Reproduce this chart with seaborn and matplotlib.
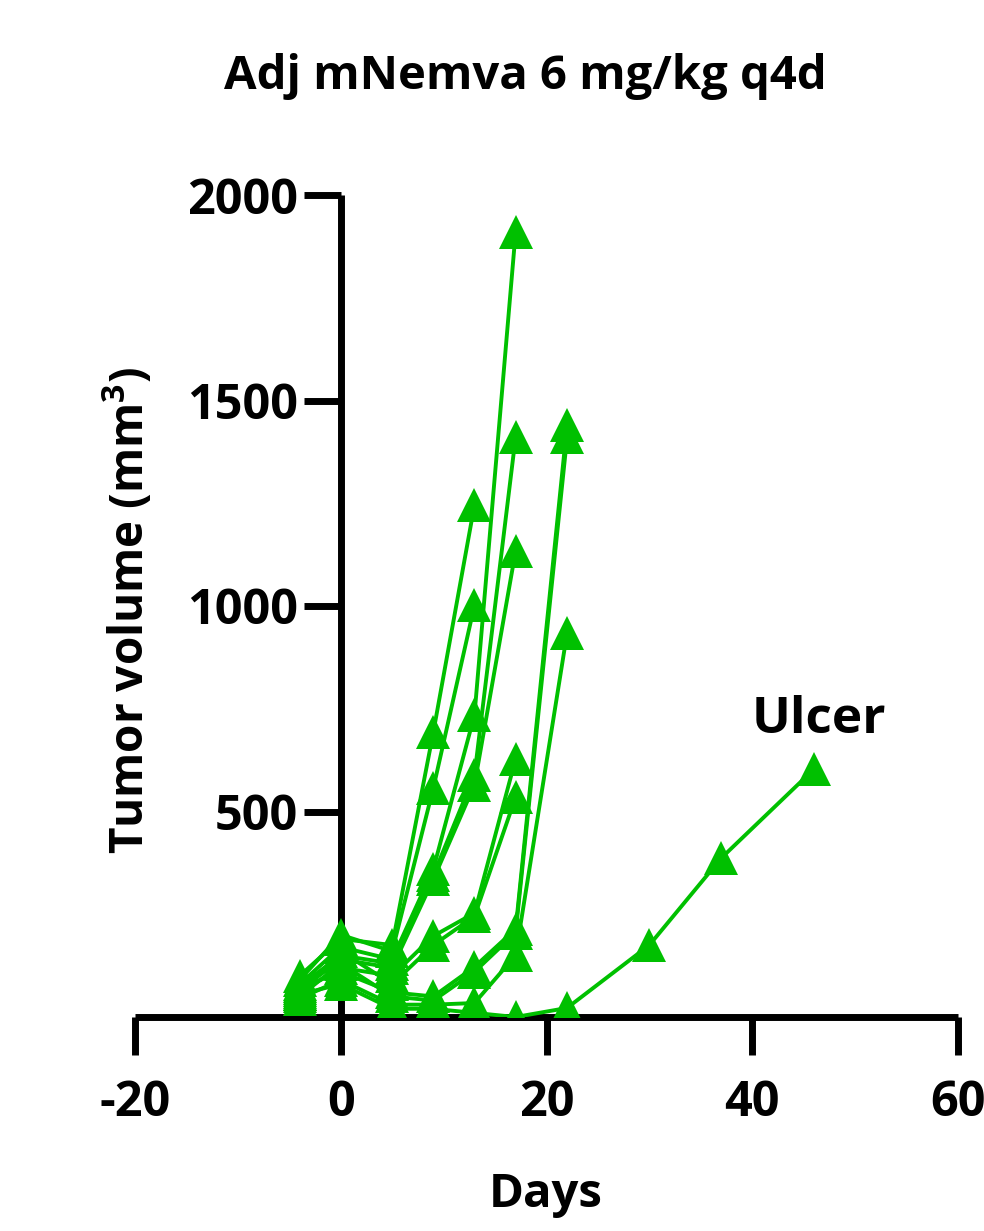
import numpy as np
import pandas as pd
import matplotlib
matplotlib.use("Agg")
import matplotlib.pyplot as plt
import seaborn as sns

# ---- data ----
days_main = [-4, 0, 5, 9, 13, 17, 22]
days_ulcer = [-4, 0, 5, 9, 13, 17, 22, 30, 37, 46]

mouse_A = [100, 190, 175, 693, 1246]
mouse_B = [90, 200, 160, 557, 1002]
mouse_C = [80, 170, 140, 360, 735, 1910]
mouse_D = [75, 150, 130, 345, 589, 1411]
mouse_E = [65, 140, 120, 335, 565, 1134]
mouse_F = [60, 120, 100, 197, 253, 628]
mouse_G = [55, 160, 80, 175, 245, 535]
mouse_H = [70, 110, 60, 50, 122, 214, 1440]
mouse_I = [50, 130, 50, 40, 110, 205, 1410]
mouse_J = [45, 90, 30, 30, 34, 150, 934]
mouse_K = [55, 80, 20, 20, 10, 0, 22, 175, 387, 603]  # ulcer

mice = {"A": mouse_A, "B": mouse_B, "C": mouse_C, "D": mouse_D, "E": mouse_E,
        "F": mouse_F, "G": mouse_G, "H": mouse_H, "I": mouse_I, "J": mouse_J}

rows = []
for name, vals in mice.items():
    for d, v in zip(days_main, vals):
        rows.append((name, d, v))
for d, v in zip(days_ulcer, mouse_K):
    rows.append(("K", d, v))
df = pd.DataFrame(rows, columns=["mouse", "day", "volume"])

x_ticks = [-20, 0, 20, 40, 60]
y_ticks = [500, 1000, 1500, 2000]

title = "Adj mNemva 6 mg/kg q4d"
xlabel = "Days"
ylabel = r"Tumor volume (mm$^{\mathbf{3}}$)"
annotation = "Ulcer"

# ---- style ----
sns.set_style("white")
plt.rcParams["font.family"] = ["Open Sans", "DejaVu Sans"]
plt.rcParams["font.weight"] = "bold"
plt.rcParams["text.color"] = "black"
plt.rcParams["axes.unicode_minus"] = False
plt.rcParams["mathtext.fontset"] = "custom"
plt.rcParams["mathtext.bf"] = "Open Sans:bold"
plt.rcParams["mathtext.rm"] = "Open Sans:bold"

green = "#00C000"

fig = plt.figure(figsize=(9.84, 12.31), dpi=100)
ax = fig.add_axes([135 / 984, 1 - 1017 / 1231, (958 - 135) / 984, (1017 - 195) / 1231])

sns.lineplot(data=df, x="day", y="volume", units="mouse", estimator=None,
             color=green, marker="^", markersize=24, markeredgewidth=0,
             linewidth=2.8, ax=ax, zorder=3, legend=False)

ax.set_xlim(-20, 60)
ax.set_ylim(0, 2000)
ax.set_xticks(x_ticks)
ax.set_yticks(y_ticks)
ax.set_xticklabels([str(t) for t in x_ticks])

for s in ["top", "right"]:
    ax.spines[s].set_visible(False)
ax.spines["left"].set_position(("data", 0))
for s in ["left", "bottom"]:
    ax.spines[s].set_linewidth(5)
    ax.spines[s].set_color("black")
    ax.spines[s].set_capstyle("butt")

ax.tick_params(axis="both", which="major", length=27, width=5, color="black",
               direction="out", labelsize=35, pad=4, bottom=True, left=True,
               labelcolor="black")
ax.tick_params(axis="x", pad=18)
for lab in ax.get_xticklabels() + ax.get_yticklabels():
    lab.set_fontweight("bold")

ax.set_xlabel("")
ax.set_ylabel("")
fig.text(546 / 984, 1 - 1195 / 1231, xlabel, ha="center", va="center",
         fontsize=34, fontweight="bold", color="black")
fig.text(128 / 984, 1 - 610 / 1231, ylabel, ha="center", va="center",
         fontsize=33, fontweight="bold", rotation=90, color="black")
fig.text(525 / 984, 1 - 77 / 1231, title, ha="center", va="center",
         fontsize=34, fontweight="bold", color="black")
ax.text(46.5, 722, annotation, ha="center", va="center", fontsize=37,
        fontweight="bold", color="black")

ax.grid(False)
fig.savefig("out.png", dpi=100)
